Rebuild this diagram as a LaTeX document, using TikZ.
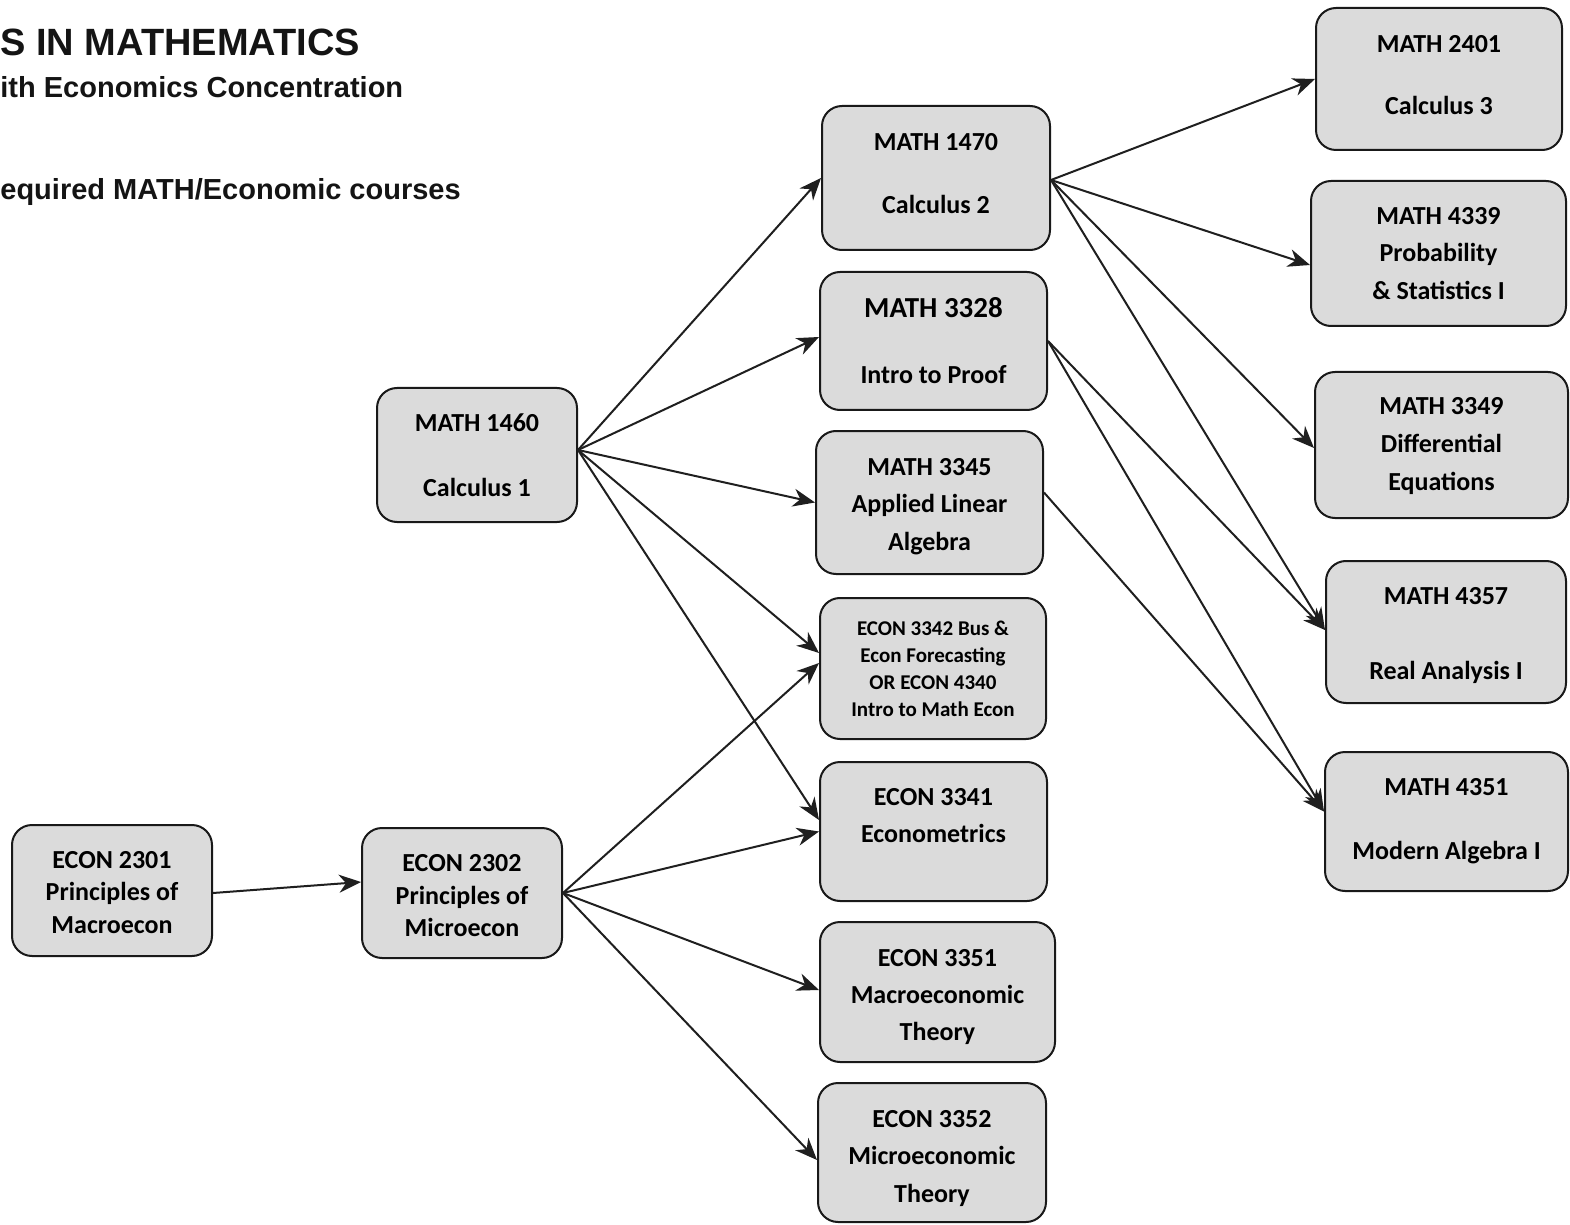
\documentclass[tikz,border=0pt]{standalone}
\usepackage{fontspec}
\setmainfont{Carlito}
\newfontfamily\titlefont{Liberation Sans}
\usetikzlibrary{arrows.meta}
\newcommand\uplift[1]{\rule{0pt}{#1}}
\begin{document}
\begin{tikzpicture}[x=0.5pt,y=-0.5pt,
  course/.style={draw=black!90, line width=1pt, fill=black!14, rounded corners=10pt, align=center, text=black, inner sep=0pt},
  fs/.style 2 args={font=\bfseries\fontsize{#1}{#2}\selectfont},
  arr/.style={draw=black!88, line width=1pt, -{Stealth[length=11pt,width=9pt,inset=3.5pt]}},
  ttl/.style={anchor=base west, inner sep=0pt, text=black!92}]
\useasboundingbox (0,0) rectangle (1570,1225);
\fill[white] (0,0) rectangle (1570,1225);

% titles
\node[ttl, font=\titlefont\bfseries\fontsize{19}{22}\selectfont] (t1) at (0,56) {S IN MATHEMATICS};
\node[ttl, font=\titlefont\bfseries\fontsize{14.5}{17}\selectfont] (t2) at (0,98) {ith Economics Concentration};
\node[ttl, font=\titlefont\bfseries\fontsize{14.5}{17}\selectfont] (t3) at (0,200) {equired MATH/Economic courses};

% column 1
\node[course, minimum width=100pt, minimum height=65.5pt, fs={13}{16.25}] (e2301) at (112,890.5) {\uplift{10.4pt}ECON 2301\\Principles of\\Macroecon};
% column 2
\node[course, minimum width=100pt, minimum height=67pt, fs={13}{32.5}] (m1460) at (477,455) {MATH 1460\\Calculus 1};
\node[course, minimum width=100pt, minimum height=65pt, fs={13}{16.25}] (e2302) at (462,893) {\uplift{11.4pt}ECON 2302\\Principles of\\Microecon};
% column 3
\node[course, minimum width=114pt, minimum height=72pt, fs={13}{31.5}, text depth=5pt] (m1470) at (936,178) {MATH 1470\\Calculus 2};
\node[course, minimum width=113.5pt, minimum height=69pt, fs={13}{33}] (m3328) at (933.5,341) {{\fontsize{14.5}{33}\selectfont MATH 3328}\\Intro to Proof};
\node[course, minimum width=113.5pt, minimum height=71.5pt, fs={13}{18.75}] (m3345) at (929.5,502.5) {\uplift{12.4pt}MATH 3345\\Applied Linear\\Algebra};
\node[course, minimum width=113pt, minimum height=70.5pt, fs={10.5}{13.5}] (e3342) at (933,668.5) {ECON 3342 Bus \&\\Econ Forecasting\\OR ECON 4340\\Intro to Math Econ};
\node[course, minimum width=113.5pt, minimum height=69.5pt, fs={13}{18.5}] (e3341) at (933.5,831.5) {\uplift{16.4pt}ECON 3341\\Econometrics\\\strut};
\node[course, minimum width=117.5pt, minimum height=70pt, fs={13}{18.5}] (e3351) at (937.5,992) {\uplift{13.4pt}ECON 3351\\Macroeconomic\\Theory};
\node[course, minimum width=114pt, minimum height=69.5pt, fs={13}{18.75}] (e3352) at (932,1152.5) {\uplift{14.4pt}ECON 3352\\Microeconomic\\Theory};
% column 4
\node[course, minimum width=123pt, minimum height=71pt, fs={13}{31}, text depth=4pt] (m2401) at (1439,79) {MATH 2401\\Calculus 3};
\node[course, minimum width=127.5pt, minimum height=72.5pt, fs={13}{18.75}] (m4339) at (1438.5,253.5) {MATH 4339\\Probability\\\& Statistics I};
\node[course, minimum width=126.5pt, minimum height=73pt, fs={13}{19}] (m3349) at (1441.5,445) {\uplift{9.4pt}MATH 3349\\Differential\\Equations};
\node[course, minimum width=120pt, minimum height=71pt, fs={13}{37.5}] (m4357) at (1446,632) {\uplift{12.4pt}MATH 4357\\Real Analysis I};
\node[course, minimum width=121.5pt, minimum height=69.5pt, fs={13}{32}] (m4351) at (1446.5,821.5) {MATH 4351\\Modern Algebra I};

% arrows
\draw[arr] ([yshift=-1.25pt]e2301.east) -- ([yshift=5.5pt]e2302.west);

\draw[arr] ([yshift=2.5pt]m1460.east) -- (m1470.west);
\draw[arr] ([yshift=2.5pt]m1460.east) -- ([yshift=2pt]m3328.west);
\draw[arr] ([yshift=2.5pt]m1460.east) -- (m3345.west);
\draw[arr] ([yshift=2.5pt]m1460.east) -- ([yshift=7.75pt]e3342.west);
\draw[arr] ([yshift=2.5pt]m1460.east) -- ([yshift=5.75pt]e3341.west);

\draw[arr] (e2302.east) -- ([yshift=2.75pt]e3342.west);
\draw[arr] (e2302.east) -- ([yshift=0pt]e3341.west);
\draw[arr] (e2302.east) -- ([yshift=1pt]e3351.west);
\draw[arr] (e2302.east) -- ([yshift=-3.75pt]e3352.west);

\draw[arr] ([yshift=-1pt]m1470.east) -- (m2401.west);
\draw[arr] ([yshift=-1pt]m1470.east) -- ([yshift=-5.75pt]m4339.west);
\draw[arr] ([yshift=-1pt]m1470.east) -- ([yshift=-1.5pt]m3349.west);
\draw[arr] ([yshift=-1pt]m1470.east) -- ([yshift=1pt]m4357.west);

\draw[arr] (m3328.east) -- ([yshift=1pt]m4357.west);
\draw[arr] (m3328.east) -- ([yshift=5pt]m4351.west);
\draw[arr] ([yshift=5pt]m3345.east) -- ([yshift=5pt]m4351.west);
\end{tikzpicture}
\end{document}
